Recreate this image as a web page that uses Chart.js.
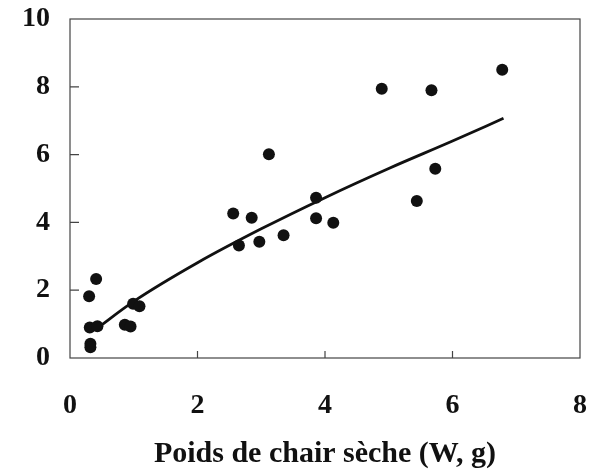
<!DOCTYPE html>
<html>
<head>
<meta charset="utf-8">
<script src="https://cdn.jsdelivr.net/npm/chart.js@4"></script>
<style>
  body { margin: 0; background: #fff; }
  #wrap { width: 599px; height: 475px; position: relative; }
</style>
</head>
<body>
<div id="wrap"><canvas id="chart"></canvas></div>
<script>
// Observed points: dry flesh weight (W, g) vs y
const pointsX = [0.30, 0.41, 0.31, 0.43, 0.32, 0.32, 0.86, 0.95, 0.99, 1.09,
  2.56, 2.65, 2.85, 2.97, 3.12, 3.35, 3.86, 3.86, 4.13,
  4.89, 5.44, 5.67, 5.73, 6.78];
const pointsY = [1.82, 2.33, 0.90, 0.94, 0.42, 0.32, 0.98, 0.93, 1.60, 1.53,
  4.26, 3.32, 4.14, 3.43, 6.01, 3.62, 4.73, 4.12, 3.99,
  7.94, 4.63, 7.90, 5.58, 8.50];

// Fitted curve
const curveX = [0.42, 1.0, 2.0, 3.0, 4.0, 5.0, 6.0, 6.8];
const curveY = [0.87, 1.67, 2.81, 3.81, 4.73, 5.59, 6.40, 7.07];

const xTicks = [0, 2, 4, 6, 8];
const yTicks = [0, 2, 4, 6, 8, 10];
const xTitle = "Poids de chair sèche (W, g)";

const serif = "'Liberation Serif', 'Times New Roman', serif";

// frame + short inward tick marks
const framePlugin = {
  id: "frame",
  afterDatasetsDraw(chart) {
    const { ctx, chartArea: a, scales } = chart;
    ctx.save();
    ctx.strokeStyle = "#444";
    ctx.lineWidth = 1.2;
    ctx.strokeRect(a.left, a.top, a.right - a.left, a.bottom - a.top);
    ctx.beginPath();
    xTicks.slice(1, -1).forEach((v) => {
      const px = scales.x.getPixelForValue(v);
      ctx.moveTo(px, a.bottom);
      ctx.lineTo(px, a.bottom - 7);
    });
    yTicks.slice(1, -1).forEach((v) => {
      const py = scales.y.getPixelForValue(v);
      ctx.moveTo(a.left, py);
      ctx.lineTo(a.left + 9, py);
    });
    ctx.stroke();
    ctx.restore();
  },
};

new Chart(document.getElementById("chart"), {
  type: "scatter",
  data: {
    datasets: [
      {
        label: "observed",
        data: pointsX.map((x, i) => ({ x: x, y: pointsY[i] })),
        backgroundColor: "#111",
        borderColor: "#111",
        pointRadius: 6,
        pointBorderWidth: 0,
      },
      {
        label: "fit",
        type: "line",
        data: curveX.map((x, i) => ({ x: x, y: curveY[i] })),
        borderColor: "#111",
        borderWidth: 2.8,
        pointRadius: 0,
        fill: false,
        cubicInterpolationMode: "monotone",
      },
    ],
  },
  options: {
    responsive: true,
    maintainAspectRatio: false,
    animation: false,
    layout: { padding: { top: 19, right: 19, bottom: 3, left: 0 } },
    plugins: {
      legend: { display: false },
      tooltip: { enabled: false },
    },
    scales: {
      x: {
        type: "linear",
        min: 0,
        max: 8,
        border: { display: false },
        grid: { display: false, drawTicks: false },
        afterBuildTicks: (s) => { s.ticks = xTicks.map((v) => ({ value: v })); },
        afterFit: (s) => {
          s.height = 114;
          s.paddingLeft = 0;
          s.paddingRight = 0;
        },
        ticks: {
          padding: 31,
          color: "#111",
          font: { family: serif, size: 28, weight: "bold" },
        },
        title: {
          display: true,
          text: xTitle,
          color: "#111",
          padding: { top: 0, bottom: 0 },
          font: { family: serif, size: 30, weight: "bold" },
        },
      },
      y: {
        min: 0,
        max: 10,
        border: { display: false },
        grid: { display: false, drawTicks: false },
        afterBuildTicks: (s) => { s.ticks = yTicks.map((v) => ({ value: v })); },
        afterFit: (s) => {
          s.width = 70;
          s.paddingTop = 0;
          s.paddingBottom = 0;
        },
        ticks: {
          padding: 20,
          color: "#111",
          font: { family: serif, size: 28, weight: "bold" },
        },
      },
    },
  },
  plugins: [framePlugin],
});
</script>
</body>
</html>
